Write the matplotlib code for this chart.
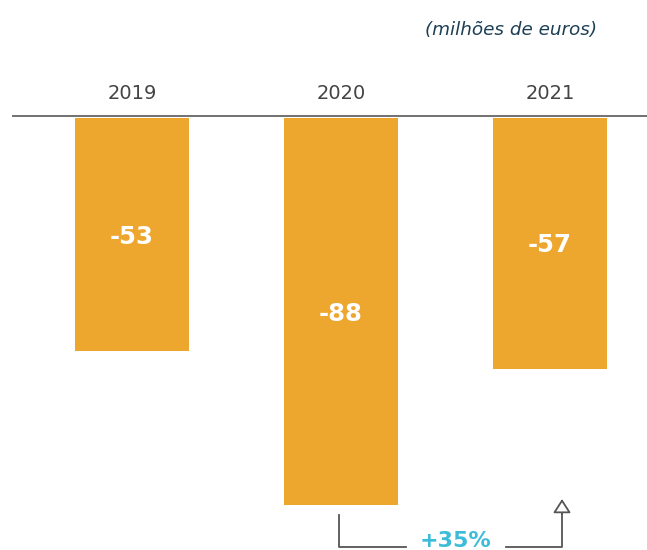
import matplotlib
matplotlib.use("Agg")
import matplotlib.pyplot as plt
from matplotlib.patches import FancyArrowPatch

# Data
years = ["2019", "2020", "2021"]
values = [-53, -88, -57]
change_label = "+35%"
unit_label = "(milhões de euros)"

BAR_COLOR = "#EEA72E"
AXIS_GREY = "#555555"
TEXT_GREY = "#444444"
CYAN = "#3DBCDA"
TITLE_BLUE = "#1D3F55"

W, H = 647, 550
fig = plt.figure(figsize=(W / 100, H / 100), dpi=100)
ax = fig.add_axes([0, 0, 1, 1])

# Scale: 4.4 px per unit, zero line 116 px from the top
px_per_unit = 4.4
zero_px = 116
ax.set_ylim(-(H - zero_px) / px_per_unit, zero_px / px_per_unit)
x0_px, step_px = 132, 209
ax.set_xlim(-x0_px / step_px, (W - x0_px) / step_px)
ax.axis("off")

xs = list(range(len(years)))
ax.bar(xs, values, width=0.55, color=BAR_COLOR, bottom=-0.45, zorder=2)

# Zero line along the top of the bars
ax.plot([12 / step_px - x0_px / step_px, ax.get_xlim()[1]], [0, 0],
        color="#666666", lw=1.3, zorder=3, solid_capstyle="butt")

for x, y, v in zip(xs, years, values):
    ax.text(x, 5.2, y, ha="center", va="center", fontsize=14, color=TEXT_GREY)
    ax.text(x, v / 2 - 0.9, f"{v}", ha="center", va="center", fontsize=17.5,
            fontweight="bold", color="white", zorder=4)

# Unit note in the top right
fig.text(597 / W, 1 - 30 / H, unit_label, ha="right", va="center",
         fontsize=13.2, style="italic", color=TITLE_BLUE)

# Change bracket under 2020 and 2021
def fx(px):
    return px / W

def fy(py):
    return 1 - py / H

line_kw = dict(color=AXIS_GREY, lw=1.3, transform=fig.transFigure)
fig.add_artist(plt.Line2D([fx(339), fx(339), fx(406)],
                          [fy(515), fy(547), fy(547)], **line_kw))
fig.add_artist(plt.Line2D([fx(506), fx(562), fx(562)],
                          [fy(547), fy(547), fy(513)], **line_kw))
arrow = FancyArrowPatch((fx(562), fy(514)), (fx(562), fy(499)),
                        transform=fig.transFigure,
                        arrowstyle="-|>,head_length=0.7,head_width=0.45",
                        mutation_scale=12, lw=1.3, edgecolor=AXIS_GREY,
                        facecolor="white", shrinkA=0, shrinkB=0)
fig.add_artist(arrow)
fig.text(fx(456), fy(541), change_label, ha="center", va="center",
         fontsize=16, fontweight="bold", color=CYAN)

fig.savefig("out.png", dpi=100)
